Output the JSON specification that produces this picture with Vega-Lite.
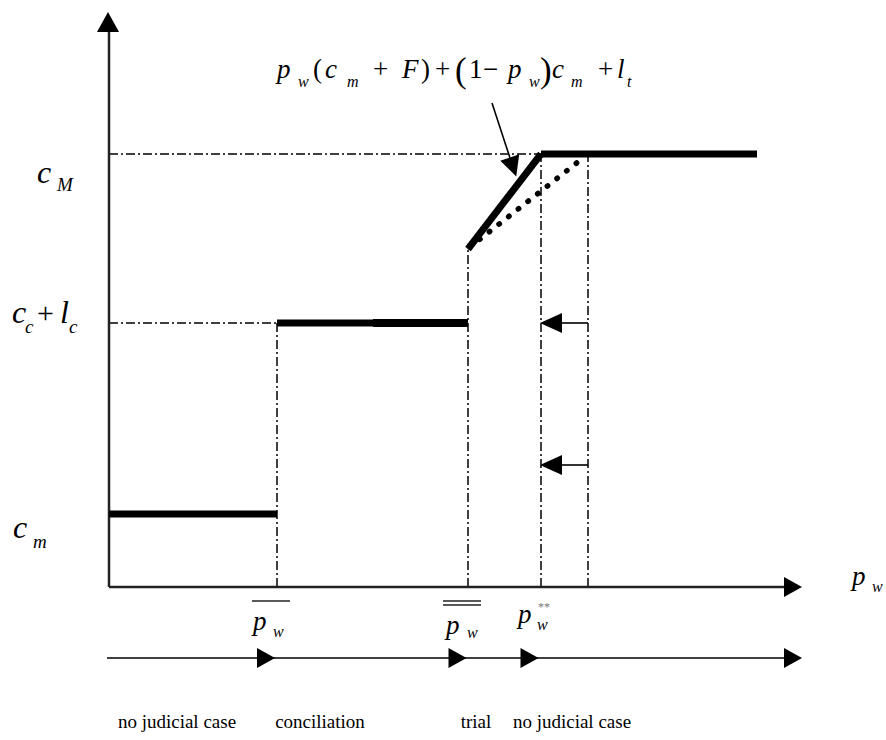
{
  "$schema": "https://vega.github.io/schema/vega-lite/v6.json",
  "width": 886,
  "height": 740,
  "padding": 0,
  "autosize": "none",
  "background": "white",
  "config": {"view": {"stroke": null}, "text": {"font": "'Liberation Serif', 'Times New Roman', 'DejaVu Serif', serif"}},
  "datasets": {
    "segs": [
      {"kind": "axis", "x": 0, "y": 0, "x2": 0, "y2": 556},
      {"kind": "axis", "x": 0, "y": 0, "x2": 676, "y2": 0},
      {"kind": "thin", "x": -2, "y": -71, "x2": 676, "y2": -71},
      {"kind": "thin", "x": 383, "y": 484, "x2": 401, "y2": 429},
      {"kind": "thin", "x": 479, "y": 264, "x2": 450, "y2": 264},
      {"kind": "thin", "x": 479, "y": 122, "x2": 450, "y2": 122},
      {"kind": "bar", "x": 143, "y": -14, "x2": 181, "y2": -14},
      {"kind": "bar", "x": 334, "y": -14, "x2": 372, "y2": -14},
      {"kind": "bar", "x": 334, "y": -18, "x2": 372, "y2": -18},
      {"kind": "thick", "x": 0, "y": 73, "x2": 168, "y2": 73},
      {"kind": "thick", "x": 168, "y": 264, "x2": 264, "y2": 264},
      {"kind": "thick8", "x": 264, "y": 264, "x2": 359, "y2": 264},
      {"kind": "thick", "x": 359, "y": 338, "x2": 432, "y2": 433},
      {"kind": "thick", "x": 432, "y": 433, "x2": 648, "y2": 433},
      {"kind": "dot", "x": 361, "y": 340, "x2": 474, "y2": 429},
      {"kind": "dash", "x": 0, "y": 433, "x2": 432, "y2": 433},
      {"kind": "dash", "x": 0, "y": 264, "x2": 168, "y2": 264},
      {"kind": "dash", "x": 168, "y": 0, "x2": 168, "y2": 264},
      {"kind": "dash", "x": 359, "y": 0, "x2": 359, "y2": 338},
      {"kind": "dash", "x": 432, "y": 0, "x2": 432, "y2": 433},
      {"kind": "dash", "x": 479, "y": 0, "x2": 479, "y2": 433}
    ],
    "heads": [
      {"kind": "up", "x": -1, "y": 565},
      {"kind": "right", "x": 684, "y": 0},
      {"kind": "right", "x": 157, "y": -71},
      {"kind": "right", "x": 348.5, "y": -71},
      {"kind": "right", "x": 420.5, "y": -71},
      {"kind": "right", "x": 684, "y": -71},
      {"kind": "left", "x": 442, "y": 264},
      {"kind": "left", "x": 442, "y": 122},
      {"kind": "annot", "x": 404, "y": 420}
    ],
    "labels": [
      {"kind": "ylab", "x": -72, "y": 404, "t": "c"},
      {"kind": "ylabsub", "x": -52, "y": 396, "t": "M"},
      {"kind": "ylab", "x": -97, "y": 264, "t": "c"},
      {"kind": "ylabsub", "x": -84, "y": 254, "t": "c"},
      {"kind": "ylabup", "x": -72, "y": 264, "t": "+"},
      {"kind": "ylab", "x": -49, "y": 264, "t": "l"},
      {"kind": "ylabsub", "x": -40, "y": 254, "t": "c"},
      {"kind": "ylab", "x": -96, "y": 49, "t": "c"},
      {"kind": "ylabsub", "x": -76, "y": 39, "t": "m"},
      {"kind": "fit", "x": 743, "y": 2, "t": "p"},
      {"kind": "fsub", "x": 763, "y": -5, "t": "w"},
      {"kind": "fit", "x": 144, "y": -43, "t": "p"},
      {"kind": "fsub", "x": 164, "y": -50, "t": "w"},
      {"kind": "fit", "x": 337, "y": -47, "t": "p"},
      {"kind": "fsub", "x": 358, "y": -51, "t": "w"},
      {"kind": "fit", "x": 409, "y": -36, "t": "p"},
      {"kind": "fsub", "x": 428, "y": -43, "t": "w"},
      {"kind": "star", "x": 429, "y": -24, "t": "**"},
      {"kind": "fit", "x": 168, "y": 509, "t": "p"},
      {"kind": "fsub", "x": 189, "y": 500, "t": "w"},
      {"kind": "fup", "x": 204, "y": 509, "t": "("},
      {"kind": "fit", "x": 216, "y": 509, "t": "c"},
      {"kind": "fsub", "x": 238, "y": 500, "t": "m"},
      {"kind": "fup", "x": 264, "y": 509, "t": "+"},
      {"kind": "fit", "x": 293, "y": 509, "t": "F"},
      {"kind": "fup", "x": 312, "y": 509, "t": ")"},
      {"kind": "fup", "x": 326, "y": 509, "t": "+"},
      {"kind": "fbig", "x": 346, "y": 505, "t": "("},
      {"kind": "fup", "x": 360, "y": 509, "t": "1"},
      {"kind": "fup", "x": 374, "y": 509, "t": "−"},
      {"kind": "fit", "x": 399, "y": 509, "t": "p"},
      {"kind": "fsub", "x": 420, "y": 500, "t": "w"},
      {"kind": "fbig", "x": 431, "y": 505, "t": ")"},
      {"kind": "fit", "x": 443, "y": 509, "t": "c"},
      {"kind": "fsub", "x": 462, "y": 500, "t": "m"},
      {"kind": "fup", "x": 489, "y": 509, "t": "+"},
      {"kind": "fit", "x": 508, "y": 509, "t": "l"},
      {"kind": "fsub", "x": 518, "y": 500, "t": "t"},
      {"kind": "cap", "x": 68, "y": -141, "t": "no judicial case"},
      {"kind": "cap", "x": 211, "y": -141, "t": "conciliation"},
      {"kind": "cap", "x": 367, "y": -141, "t": "trial"},
      {"kind": "cap", "x": 463, "y": -141, "t": "no judicial case"}
    ]
  },
  "encoding": {
    "x": {"field": "x", "type": "quantitative", "scale": {"domain": [-109, 777], "nice": false, "zero": false}, "axis": null},
    "y": {"field": "y", "type": "quantitative", "scale": {"domain": [-153, 587], "nice": false, "zero": false}, "axis": null}
  },
  "layer": [
    {
      "data": {"name": "segs"},
      "transform": [{"filter": "datum.kind === 'dash'"}],
      "mark": {"type": "rule", "stroke": "black", "strokeWidth": 1.5, "strokeDash": [9, 3, 2, 3]},
      "encoding": {"x2": {"field": "x2"}, "y2": {"field": "y2"}}
    },
    {
      "data": {"name": "segs"},
      "transform": [{"filter": "datum.kind === 'axis'"}],
      "mark": {"type": "rule", "stroke": "#222", "strokeWidth": 2.5},
      "encoding": {"x2": {"field": "x2"}, "y2": {"field": "y2"}}
    },
    {
      "data": {"name": "segs"},
      "transform": [{"filter": "datum.kind === 'thin'"}],
      "mark": {"type": "rule", "stroke": "black", "strokeWidth": 1.6},
      "encoding": {"x2": {"field": "x2"}, "y2": {"field": "y2"}}
    },
    {
      "data": {"name": "segs"},
      "transform": [{"filter": "datum.kind === 'bar'"}],
      "mark": {"type": "rule", "stroke": "#222", "strokeWidth": 1.3},
      "encoding": {"x2": {"field": "x2"}, "y2": {"field": "y2"}}
    },
    {
      "data": {"name": "segs"},
      "transform": [{"filter": "datum.kind === 'dot'"}],
      "mark": {"type": "rule", "stroke": "black", "strokeWidth": 5.5, "strokeCap": "round", "strokeDash": [0.5, 11.8]},
      "encoding": {"x2": {"field": "x2"}, "y2": {"field": "y2"}}
    },
    {
      "data": {"name": "segs"},
      "transform": [{"filter": "datum.kind === 'thick'"}],
      "mark": {"type": "rule", "stroke": "black", "strokeWidth": 7, "strokeCap": "butt"},
      "encoding": {"x2": {"field": "x2"}, "y2": {"field": "y2"}}
    },
    {
      "data": {"name": "segs"},
      "transform": [{"filter": "datum.kind === 'thick8'"}],
      "mark": {"type": "rule", "stroke": "black", "strokeWidth": 8, "strokeCap": "butt"},
      "encoding": {"x2": {"field": "x2"}, "y2": {"field": "y2"}}
    },
    {
      "data": {"name": "heads"},
      "transform": [{"filter": "datum.kind === 'right'"}],
      "mark": {"type": "point", "filled": true, "color": "black", "opacity": 1, "size": 400, "shape": "M-0.9,-1L0.9,0L-0.9,1Z"}
    },
    {
      "data": {"name": "heads"},
      "transform": [{"filter": "datum.kind === 'left'"}],
      "mark": {"type": "point", "filled": true, "color": "black", "opacity": 1, "size": 400, "shape": "M1.1,-1L-1.1,0L1.1,1Z"}
    },
    {
      "data": {"name": "heads"},
      "transform": [{"filter": "datum.kind === 'up'"}],
      "mark": {"type": "point", "filled": true, "color": "black", "opacity": 1, "size": 400, "shape": "M-1.1,1L0,-1L1.1,1Z"}
    },
    {
      "data": {"name": "heads"},
      "transform": [{"filter": "datum.kind === 'annot'"}],
      "mark": {"type": "point", "filled": true, "color": "black", "opacity": 1, "size": 400, "angle": -19, "shape": "M-1,-1L1,-1L0,1Z"}
    },
    {
      "data": {"name": "labels"},
      "transform": [{"filter": "datum.kind === 'ylab'"}],
      "mark": {"type": "text", "fontStyle": "italic", "fontSize": 32, "align": "left", "baseline": "alphabetic", "color": "black"},
      "encoding": {"text": {"field": "t"}}
    },
    {
      "data": {"name": "labels"},
      "transform": [{"filter": "datum.kind === 'ylabsub'"}],
      "mark": {"type": "text", "fontStyle": "italic", "fontSize": 19, "align": "left", "baseline": "alphabetic", "color": "black"},
      "encoding": {"text": {"field": "t"}}
    },
    {
      "data": {"name": "labels"},
      "transform": [{"filter": "datum.kind === 'ylabup'"}],
      "mark": {"type": "text", "fontSize": 30, "align": "left", "baseline": "alphabetic", "color": "black"},
      "encoding": {"text": {"field": "t"}}
    },
    {
      "data": {"name": "labels"},
      "transform": [{"filter": "datum.kind === 'fit'"}],
      "mark": {"type": "text", "fontStyle": "italic", "fontSize": 27, "align": "left", "baseline": "alphabetic", "color": "black"},
      "encoding": {"text": {"field": "t"}}
    },
    {
      "data": {"name": "labels"},
      "transform": [{"filter": "datum.kind === 'fsub'"}],
      "mark": {"type": "text", "fontStyle": "italic", "fontSize": 16, "align": "left", "baseline": "alphabetic", "color": "black"},
      "encoding": {"text": {"field": "t"}}
    },
    {
      "data": {"name": "labels"},
      "transform": [{"filter": "datum.kind === 'fup'"}],
      "mark": {"type": "text", "fontSize": 27, "align": "left", "baseline": "alphabetic", "color": "black"},
      "encoding": {"text": {"field": "t"}}
    },
    {
      "data": {"name": "labels"},
      "transform": [{"filter": "datum.kind === 'fbig'"}],
      "mark": {"type": "text", "fontSize": 35, "align": "left", "baseline": "alphabetic", "color": "black"},
      "encoding": {"text": {"field": "t"}}
    },
    {
      "data": {"name": "labels"},
      "transform": [{"filter": "datum.kind === 'star'"}],
      "mark": {"type": "text", "fontSize": 12, "align": "left", "baseline": "alphabetic", "color": "#777"},
      "encoding": {"text": {"field": "t"}}
    },
    {
      "data": {"name": "labels"},
      "transform": [{"filter": "datum.kind === 'cap'"}],
      "mark": {"type": "text", "fontSize": 19, "align": "center", "baseline": "alphabetic", "color": "black"},
      "encoding": {"text": {"field": "t"}}
    }
  ]
}
